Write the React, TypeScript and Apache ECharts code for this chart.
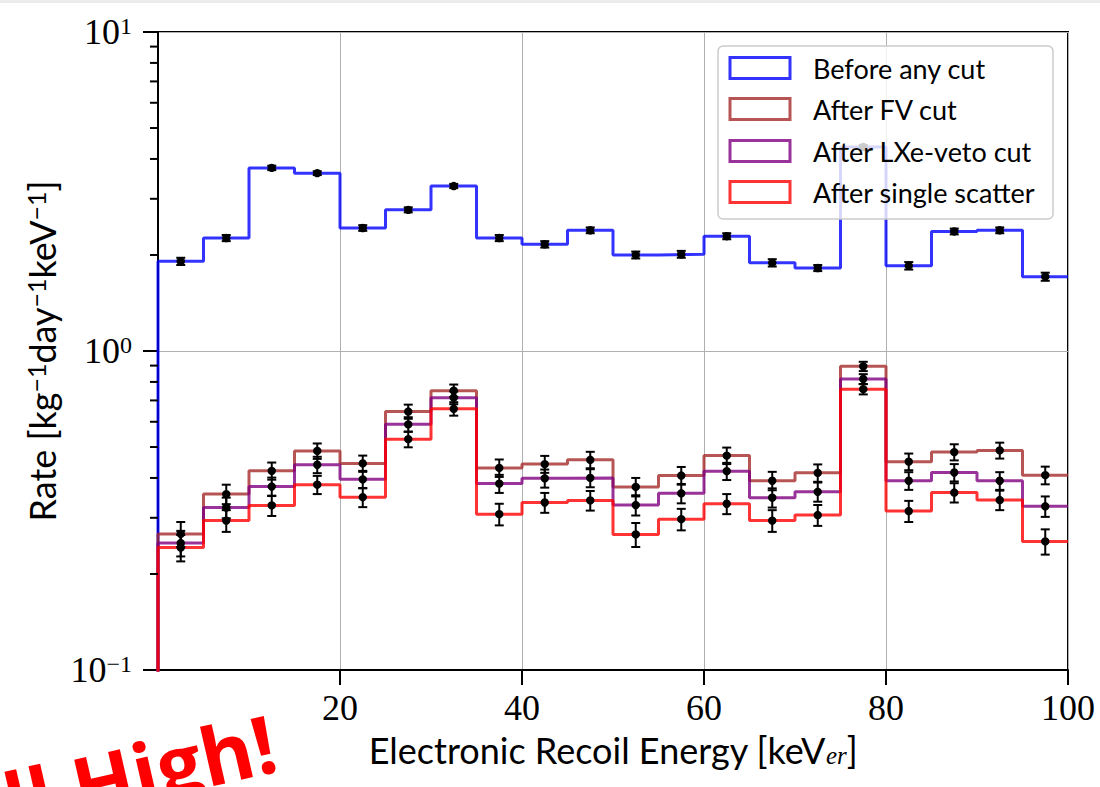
import React, { useEffect, useRef } from "react";
import * as echarts from "echarts";

// ---- data ----
const binEdges = [0, 5, 10, 15, 20, 25, 30, 35, 40, 45, 50, 55, 60, 65, 70, 75, 80, 85, 90, 95];
const binCenters = [2.5, 7.5, 12.5, 17.5, 22.5, 27.5, 32.5, 37.5, 42.5, 47.5, 52.5, 57.5, 62.5, 67.5, 72.5, 77.5, 82.5, 87.5, 92.5, 97.5];
const xMax = 100;

const seriesNames = ["Before any cut", "After FV cut", "After LXe-veto cut", "After single scatter"];

const beforeAnyCut = [1.91, 2.26, 3.75, 3.61, 2.43, 2.77, 3.29, 2.26, 2.16, 2.39, 2.0, 2.01, 2.29, 1.89, 1.82, 4.36, 1.85, 2.37, 2.39, 1.71];
const afterFV = [0.267, 0.356, 0.421, 0.486, 0.444, 0.646, 0.751, 0.43, 0.442, 0.456, 0.375, 0.407, 0.47, 0.392, 0.415, 0.895, 0.45, 0.482, 0.488, 0.408];
const afterVeto = [0.25, 0.323, 0.376, 0.44, 0.396, 0.589, 0.714, 0.384, 0.399, 0.4, 0.329, 0.358, 0.42, 0.347, 0.362, 0.817, 0.392, 0.416, 0.392, 0.326];
const afterSingle = [0.242, 0.294, 0.328, 0.381, 0.348, 0.529, 0.659, 0.308, 0.335, 0.34, 0.266, 0.297, 0.332, 0.294, 0.306, 0.759, 0.315, 0.36, 0.341, 0.253];

const beforeErr = [0.05, 0.05, 0.06, 0.05, 0.05, 0.05, 0.05, 0.05, 0.05, 0.05, 0.05, 0.05, 0.05, 0.05, 0.04, 0.06, 0.05, 0.05, 0.05, 0.05];
const fvErr = [0.024, 0.025, 0.026, 0.027, 0.026, 0.033, 0.034, 0.027, 0.027, 0.027, 0.025, 0.026, 0.028, 0.026, 0.026, 0.03, 0.027, 0.028, 0.028, 0.026];
const vetoErr = [0.023, 0.024, 0.025, 0.026, 0.025, 0.031, 0.033, 0.025, 0.026, 0.026, 0.024, 0.025, 0.026, 0.024, 0.025, 0.029, 0.025, 0.026, 0.025, 0.024];
const singleErr = [0.023, 0.023, 0.024, 0.025, 0.024, 0.03, 0.032, 0.024, 0.024, 0.024, 0.023, 0.023, 0.024, 0.023, 0.023, 0.028, 0.024, 0.025, 0.024, 0.023];

const xTickValues = [20, 40, 60, 80, 100];
const yMinorTicks = [0.2, 0.3, 0.4, 0.5, 0.6, 0.7, 0.8, 0.9, 2, 3, 4, 5, 6, 7, 8, 9];
const xAxisTitle = "Electronic Recoil Energy [keV{sub|er}]";
const yAxisTitle = "Rate [kg{sup|−1}day{sup|−1}keV{sup|−1}]";
const annotationText = "Still High!";

// ---- styles ----
const colors = ["rgba(0,0,255,0.8)", "rgba(165,42,42,0.8)", "rgba(128,0,128,0.8)", "rgba(255,0,0,0.8)"];
const SANS = "Lato, 'Noto Sans', sans-serif";
const SERIF = "'Liberation Serif', 'DejaVu Serif', serif";

const FLOOR = 0.01;
function stepData(vals: number[]) {
  const pts: number[][] = [[0, FLOOR]];
  vals.forEach((v, i) => pts.push([binEdges[i], v]));
  pts.push([xMax, vals[vals.length - 1]]);
  return pts;
}

function errData(vals: number[], errs: number[]) {
  return vals.map((v, i) => [binCenters[i], v, errs[i]]);
}

const errorRender = (params: any, api: any) => {
  const x = api.value(0);
  const y = api.value(1);
  const e = api.value(2);
  const c = api.coord([x, y]);
  const t = api.coord([x, y + e]);
  const b = api.coord([x, y - e]);
  const cap = 4.5;
  const st = { stroke: "#000", lineWidth: 2 };
  return {
    type: "group",
    children: [
      { type: "line", shape: { x1: c[0], y1: t[1], x2: c[0], y2: b[1] }, style: st },
      { type: "line", shape: { x1: c[0] - cap, y1: t[1], x2: c[0] + cap, y2: t[1] }, style: st },
      { type: "line", shape: { x1: c[0] - cap, y1: b[1], x2: c[0] + cap, y2: b[1] }, style: st },
      { type: "circle", shape: { cx: c[0], cy: c[1], r: 4.2 }, style: { fill: "#000" } },
    ],
  };
};

const minorTickRender = (params: any, api: any) => {
  const p = api.coord([0, api.value(1)]);
  return {
    type: "line",
    shape: { x1: p[0] - 8, y1: p[1], x2: p[0], y2: p[1] },
    style: { stroke: "#000", lineWidth: 2 },
  };
};

export default function App() {
  const ref = useRef<HTMLDivElement>(null);
  useEffect(() => {
    if (!ref.current) return;
    const chart = echarts.init(ref.current, null, { renderer: "svg" });
    const allVals = [beforeAnyCut, afterFV, afterVeto, afterSingle];
    const allErrs = [beforeErr, fvErr, vetoErr, singleErr];

    const lineSeries = allVals.map((vals, i) => ({
      type: "line",
      name: seriesNames[i],
      data: stepData(vals),
      step: "end",
      showSymbol: false,
      symbol: "none",
      clip: true,
      lineStyle: { color: colors[i], width: 3 },
      itemStyle: { color: colors[i] },
      z: 2,
    }));
    const errSeries = allVals.map((vals, i) => ({
      type: "custom",
      name: seriesNames[i] + " errors",
      coordinateSystem: "cartesian2d",
      data: errData(vals, allErrs[i]),
      encode: { x: 0, y: 1 },
      renderItem: errorRender,
      z: 3,
    }));

    const legendTop = 46;
    const rowCenters = [68, 109, 151, 192];
    const graphics: any[] = [
      { type: "rect", shape: { x: 0, y: 0, width: 1100, height: 3 }, style: { fill: "#ebebeb" }, z: 1 },
      {
        type: "rect",
        z: 100,
        shape: { x: 718, y: legendTop, width: 335, height: 173, r: 5 },
        style: { fill: "rgba(255,255,255,0.8)", stroke: "#cccccc", lineWidth: 1.5 },
      },
    ];
    seriesNames.forEach((n, i) => {
      graphics.push({
        type: "rect",
        z: 101,
        shape: { x: 730, y: rowCenters[i] - 10.5, width: 60, height: 21 },
        style: { fill: "none", stroke: colors[i], lineWidth: 3 },
      });
      graphics.push({
        type: "text",
        z: 101,
        x: 813,
        y: rowCenters[i],
        style: { text: n, font: `27px ${SANS}`, fill: "#000", verticalAlign: "middle", align: "left" },
      });
    });
    graphics.push({
      type: "text",
      x: 274,
      y: 740,
      rotation: 0.226,
      z: 101,
      style: {
        text: annotationText,
        font: `bold 80px 'Open Sans', 'Noto Sans', sans-serif`,
        fill: "#ff0000",
        align: "right",
        verticalAlign: "middle",
      },
    });

    chart.setOption({
      animation: false,
      backgroundColor: "#ffffff",
      grid: {
        left: 158,
        right: 32,
        top: 32,
        bottom: 117,
        show: true,
        borderColor: "#000",
        borderWidth: 2,
        backgroundColor: "transparent",
      },
      xAxis: {
        type: "value",
        min: 0,
        max: 100,
        interval: 20,
        axisLine: { show: true, lineStyle: { color: "#000", width: 2 } },
        axisTick: { show: true, length: 15, inside: false, customValues: xTickValues, lineStyle: { color: "#000", width: 2 } },
        axisLabel: {
          customValues: xTickValues,
          margin: 20,
          color: "#000",
          fontFamily: SERIF,
          fontSize: 36,
        },
        splitLine: { show: true, lineStyle: { color: "#b0b0b0", width: 1 } },
        name: xAxisTitle,
        nameLocation: "middle",
        nameGap: 62,
        nameTextStyle: {
          color: "#000",
          fontFamily: SANS,
          fontSize: 36,
          rich: {
            sub: { fontFamily: SERIF, fontStyle: "italic", fontSize: 25, verticalAlign: "bottom", color: "#000" },
          },
        },
      },
      yAxis: {
        type: "log",
        logBase: 10,
        min: 0.1,
        max: 10,
        axisLine: { show: true, lineStyle: { color: "#000", width: 2 } },
        axisTick: { show: true, length: 15, inside: false, lineStyle: { color: "#000", width: 2 } },
        axisLabel: {
          margin: 26,
          color: "#000",
          fontFamily: SERIF,
          fontSize: 36,
          formatter: (v: number) => {
            const e = Math.round(Math.log10(v));
            return "10{sup|" + (e < 0 ? "−" : "") + Math.abs(e) + "}";
          },
          rich: {
            sup: { fontFamily: SERIF, fontSize: 24, verticalAlign: "top", color: "#000" },
          },
        },
        splitLine: { show: true, lineStyle: { color: "#b0b0b0", width: 1 } },
        minorTick: { show: false },
        name: yAxisTitle,
        nameLocation: "middle",
        nameGap: 94,
        nameRotate: 90,
        nameTextStyle: {
          color: "#000",
          fontFamily: SANS,
          fontSize: 36,
          rich: {
            sup: { fontFamily: SANS, fontSize: 25, verticalAlign: "top", color: "#000" },
          },
        },
      },
      series: [
        ...lineSeries,
        ...errSeries,
        {
          type: "custom",
          name: "minor ticks",
          coordinateSystem: "cartesian2d",
          data: yMinorTicks.map((v) => [0, v]),
          encode: { x: 0, y: 1 },
          renderItem: minorTickRender,
          clip: false,
          silent: true,
          z: 5,
        },
      ],
      graphic: graphics,
    });
    return () => chart.dispose();
  }, []);

  return (
    <div
      ref={ref}
      style={{ position: "fixed", left: 0, top: 0, width: 1100, height: 787, background: "#fff" }}
    />
  );
}
